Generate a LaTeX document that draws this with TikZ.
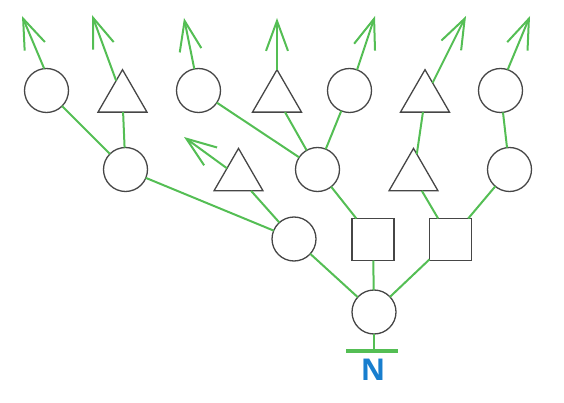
\documentclass[tikz,border=0pt]{standalone}
\usepackage{fontspec}
\setsansfont{Open Sans}
\usetikzlibrary{shapes.geometric,arrows.meta}
\definecolor{lg}{RGB}{84,190,84}
\definecolor{ol}{RGB}{70,70,70}
\definecolor{nb}{RGB}{24,126,206}
\begin{document}
\begin{tikzpicture}[x=1pt,y=-1pt,
  circ/.style={circle,draw=ol,line width=1.3pt,minimum size=44pt,inner sep=0pt,outer sep=0pt},
  tri/.style={regular polygon,regular polygon sides=3,draw=ol,line width=1.3pt,minimum size=56.6pt,inner sep=0pt,outer sep=0pt},
  sq/.style={rectangle,draw=ol,line width=1.3pt,minimum size=42pt,inner sep=0pt,outer sep=0pt},
  edge/.style={draw=lg,line width=2pt},
  arr/.style={edge,-{Straight Barb[length=30pt,width=22pt,line width=2pt,line cap=butt]}}]
\useasboundingbox (0,0) rectangle (564,403);
% nodes
\node[circ] (root) at (374,312) {};
\node[circ] (C1) at (294,239) {};
\node[sq] (S1) at (373,239.5) {};
\node[sq] (S2) at (450.5,239.5) {};
\node[circ] (L) at (125.5,169.5) {};
\node[tri] (Tm) at (238.5,176.7) {};
\node[circ] (M) at (317.5,169.5) {};
\node[tri] (R) at (413.5,176.7) {};
\node[circ] (RR) at (509.5,169.5) {};
\node[circ] (A) at (46.5,90.5) {};
\node[tri] (B) at (122.5,98) {};
\node[circ] (C) at (198.5,90.5) {};
\node[tri] (D) at (277,98) {};
\node[circ] (E) at (349.5,90.5) {};
\node[tri] (F) at (425,98) {};
\node[circ] (G) at (500.5,90.5) {};
% arrow tips
\coordinate (tA) at (22,16);
\coordinate (tB) at (92,15);
\coordinate (tC) at (184,18);
\coordinate (tD) at (277,18);
\coordinate (tE) at (375,16);
\coordinate (tF) at (466,16);
\coordinate (tG) at (530,16);
\coordinate (tT) at (184,137);
% base bar
\coordinate (barL) at (346,351);
\coordinate (barR) at (398,351);
\coordinate (barM) at (374,351);
% edges
\draw[edge] (root) -- (C1);
\draw[edge] (root) -- (S1);
\draw[edge] (root) -- (S2);
\draw[edge] (C1) -- (L);
\draw[edge] (C1) -- (Tm);
\draw[edge] (S1) -- (M);
\draw[edge] (S2) -- (R);
\draw[edge] (S2) -- (RR);
\draw[edge] (L) -- (A);
\draw[edge] (L) -- (B);
\draw[edge] (M) -- (C);
\draw[edge] (M) -- (D);
\draw[edge] (M) -- (E);
\draw[edge] (R) -- (F);
\draw[edge] (RR) -- (G);
% arrows
\draw[arr] (A.96) -- (tA);
\draw[arr] (B) -- (tB);
\draw[arr] (C.101) -- (tC);
\draw[arr] (D) -- (tD);
\draw[arr] (E.70) -- (tE);
\draw[arr] (F) -- (tF);
\draw[arr] (G.71) -- (tG);
\draw[arr] (Tm) -- (tT);
% stem and bar
\draw[edge] (root) -- (barM);
\draw[draw=lg,line width=4pt] (barL) -- (barR);
\node[text=nb,font=\sffamily\bfseries\fontsize{30}{30}\selectfont,inner sep=0pt] (N) at (373,370) {N};
\end{tikzpicture}
\end{document}
